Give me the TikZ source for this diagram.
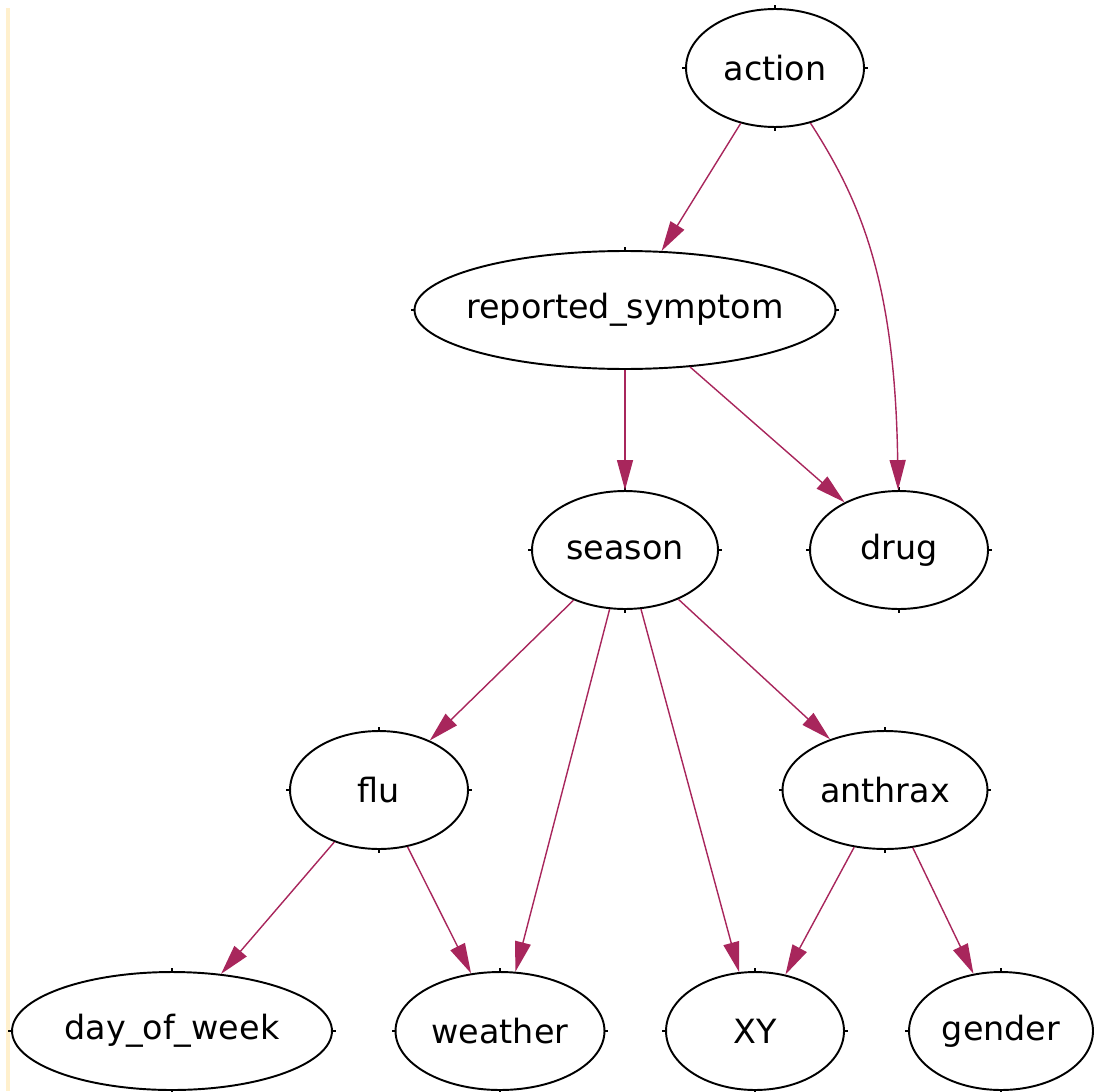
\documentclass[tikz,border=0pt]{standalone}
\usepackage{fontspec}
\setmainfont{DejaVu Sans}
\usetikzlibrary{arrows.meta, shapes.geometric}

\definecolor{linkred}{RGB}{168,38,92}
\definecolor{edgeyellow}{RGB}{255,240,205}

\begin{document}
\begin{tikzpicture}[
    x=0.02cm, y=-0.02cm, % one unit is one pixel of the drawing
    var/.style={ellipse, draw, line width=1.1pt, inner sep=0pt,
        minimum width=3.56cm, minimum height=2.36cm,
        font=\fontsize{19}{22}\selectfont}, % Style for the variables
    link/.style={-{Triangle[length=0.6cm, width=0.32cm]}, draw=linkred,
        line width=0.8pt}, % Style for the dependencies
    tick/.style={line width=0.8pt} % Small marks on the ellipses
]
    \useasboundingbox (0,0) rectangle (1094,1091);

    % Thin band at the left edge
    \fill[edgeyellow] (6,8) rectangle (10,1091);

    % Variables
    \node[var] (action) at (775,68) {action};
    \node[var, inner xsep=-0.3cm, minimum width=8.42cm] (reported_symptom) at (625,310) {reported\_symptom};
    \node[var, minimum width=3.72cm] (season) at (625,550) {season};
    \node[var] (drug) at (899,550) {drug};
    \node[var] (flu) at (379,790) {flu};
    \node[var, minimum width=4.1cm] (anthrax) at (885,790) {anthrax};
    \node[var, minimum width=6.4cm] (day_of_week) at (172,1031) {day\_of\_week};
    \node[var, minimum width=4.18cm] (weather) at (500,1031) {weather};
    \node[var] (XY) at (755,1031) {XY};
    \node[var, minimum width=3.68cm] (gender) at (1001,1031) {gender};

    % Marks at the four extremes of each ellipse
    \foreach \n in {action, reported_symptom, season, drug, flu, anthrax,
                    day_of_week, weather, XY, gender} {
        \draw[tick] (\n.north) -- ++(0,-3);
        \draw[tick] (\n.south) -- ++(0,3);
        \draw[tick] (\n.west) -- ++(-3,0);
        \draw[tick] (\n.east) -- ++(3,0);
    }

    % Dependencies
    \draw[link] (action) -- (reported_symptom);
    \draw[link] (action) .. controls (860,200) and (895,280) .. (drug);
    \draw[link] (reported_symptom) -- (season);
    \draw[link] (reported_symptom) -- (drug);
    \draw[link] (season) -- (flu);
    \draw[link] (season) -- (weather);
    \draw[link] (season) -- (XY);
    \draw[link] (season) -- (anthrax);
    \draw[link] (flu) -- (day_of_week);
    \draw[link] (flu) -- (weather);
    \draw[link] (anthrax) -- (XY);
    \draw[link] (anthrax) -- (gender);

\end{tikzpicture}
\end{document}
